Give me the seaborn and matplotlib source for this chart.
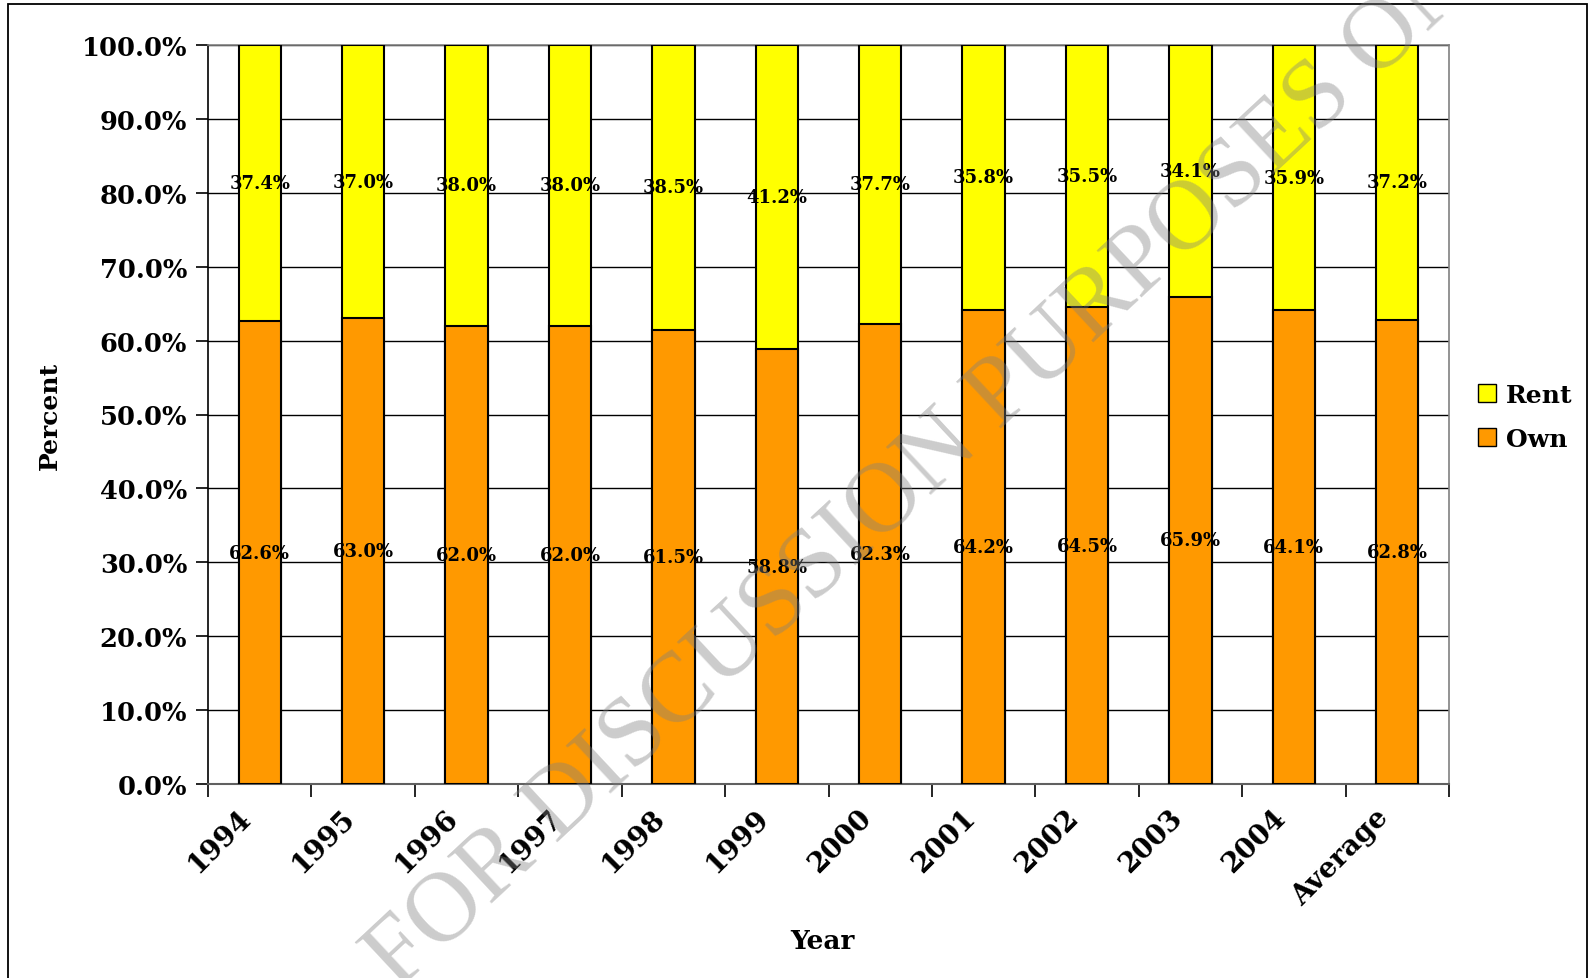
import matplotlib
matplotlib.use("Agg")
import matplotlib.pyplot as plt
import matplotlib.patches as mpatches
import matplotlib.transforms as mtransforms
import seaborn as sns
import pandas as pd

categories = ["1994", "1995", "1996", "1997", "1998", "1999", "2000",
              "2001", "2002", "2003", "2004", "Average"]
own = [62.6, 63.0, 62.0, 62.0, 61.5, 58.8, 62.3, 64.2, 64.5, 65.9, 64.1, 62.8]
rent = [37.4, 37.0, 38.0, 38.0, 38.5, 41.2, 37.7, 35.8, 35.5, 34.1, 35.9, 37.2]
y_ticks = [0, 10, 20, 30, 40, 50, 60, 70, 80, 90, 100]

RENT_COLOR = "#FFFF00"
OWN_COLOR = "#FF9900"

sns.set_theme(style="white")
plt.rcParams["font.family"] = ["DejaVu Serif"]
plt.rcParams["font.weight"] = "bold"
for key in ["text.color", "axes.labelcolor", "xtick.color", "ytick.color"]:
    plt.rcParams[key] = "black"

df = pd.DataFrame({"Year": categories, "Own": own, "Rent": rent})
df["Total"] = df["Own"] + df["Rent"]

fig = plt.figure(figsize=(15.91, 9.79), dpi=100)
ax = fig.add_axes([208 / 1591, 1 - 785 / 979, (1449 - 208) / 1591, (785 - 46) / 979])

# stacked bars: full-height rent bar, own bar drawn over it
sns.barplot(data=df, x="Year", y="Total", color=RENT_COLOR, width=0.41,
            edgecolor="black", linewidth=1.5, saturation=1, ax=ax, zorder=3)
sns.barplot(data=df, x="Year", y="Own", color=OWN_COLOR, width=0.41,
            edgecolor="black", linewidth=1.5, saturation=1, ax=ax, zorder=4)

for i, (o, r) in enumerate(zip(own, rent)):
    ax.text(i, o / 2, f"{o:.1f}%", ha="center", va="center",
            fontsize=13, fontweight="bold", color="black", zorder=6)
    ax.text(i, o + r / 2, f"{r:.1f}%", ha="center", va="center",
            fontsize=13, fontweight="bold", color="black", zorder=6)

ax.set_ylim(0, 100)
ax.set_xlim(-0.5, len(categories) - 0.5)
ax.set_yticks(y_ticks)
ax.set_yticklabels([f"{v:.1f}%" for v in y_ticks], fontsize=18.5, fontweight="bold")
ax.yaxis.grid(True, color="black", linewidth=1.0, zorder=0)
ax.set_axisbelow(True)

# category ticks sit between bars
ax.set_xticks([i - 0.5 for i in range(len(categories) + 1)], minor=False)
ax.set_xticklabels([""] * (len(categories) + 1))
ax.set_xticks(range(len(categories)), minor=True)
ax.set_xticklabels(categories, minor=True, rotation=45, ha="right",
                   rotation_mode="anchor", fontsize=20, fontweight="bold")
ax.tick_params(axis="x", which="major", direction="out", length=9, width=1.2,
               color="black", bottom=True)
ax.tick_params(axis="x", which="minor", length=0, pad=14, bottom=True)
ax.tick_params(axis="y", direction="out", length=9, width=1.2, color="black",
               left=True, pad=6)
shift = mtransforms.ScaledTranslation(-22 / 100, 0, fig.dpi_scale_trans)
for lbl in ax.get_xticklabels(minor=True):
    lbl.set_transform(lbl.get_transform() + shift)

for side in ["top", "right"]:
    ax.spines[side].set_visible(True)
    ax.spines[side].set_color("#808080")
    ax.spines[side].set_linewidth(1.2)
ax.spines["left"].set_color("black")
ax.spines["left"].set_linewidth(1.2)
ax.spines["bottom"].set_color("#606060")
ax.spines["bottom"].set_linewidth(1.5)

ax.set_xlabel("Year", fontsize=19, fontweight="bold")
ax.set_ylabel("Percent", fontsize=18, fontweight="bold")
ax.xaxis.set_label_coords(0.495, -0.195)
ax.yaxis.set_label_coords(-0.118, 0.5)

handles = [mpatches.Patch(facecolor=RENT_COLOR, edgecolor="black", label="Rent"),
           mpatches.Patch(facecolor=OWN_COLOR, edgecolor="black", label="Own")]
leg = fig.legend(handles=handles, loc="center left",
                 bbox_to_anchor=(1455 / 1591, 1 - 418 / 979), frameon=False,
                 prop={"size": 18, "weight": "bold"}, handlelength=0.75,
                 handleheight=0.75, handletextpad=0.4, labelspacing=0.8)

# outer chart frame
fig.add_artist(mpatches.Rectangle((8 / 1591, -0.05), (1587 - 8) / 1591,
                                  1.05 - 5 / 979, transform=fig.transFigure,
                                  fill=False, edgecolor="black", linewidth=1.3))

# diagonal watermark
fig.text(398 / 1591, 1 - 992 / 979, "FOR DISCUSSION PURPOSES ONLY",
         rotation=43, rotation_mode="anchor", ha="left", va="baseline",
         fontsize=71, fontweight="normal", family="Liberation Serif",
         color="#808080", alpha=0.4, zorder=10)

fig.savefig("out.png", dpi=100)
